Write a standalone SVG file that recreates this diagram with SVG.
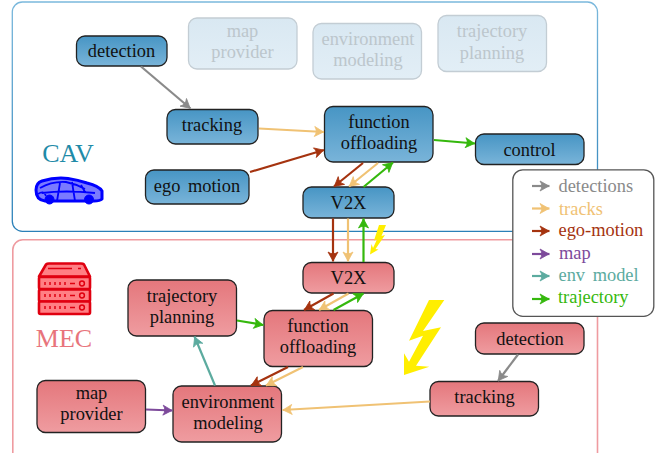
<svg xmlns="http://www.w3.org/2000/svg" width="656" height="453" viewBox="0 0 656 453">
<style>
text{font-family:"Liberation Serif",serif;font-size:18.4px;text-anchor:middle;fill:#111}
.n{stroke:#222;stroke-width:1.3}
.b{fill:url(#gb)}
.r{fill:url(#gr)}
.f{fill:url(#gf);stroke:#c3cdd4;stroke-width:1.3}
.ft{fill:#bcc6cc}
.l{text-anchor:start}
.c{fill:none;stroke-width:2.2}
.w{word-spacing:3px}
.gy{stroke:#8a8a8a}.tr{stroke:#f0c274}.eg{stroke:#a5330f}.mp{stroke:#7d4a9b}.em{stroke:#5cab9f}.tj{stroke:#35b80d}
</style>
<defs>
<linearGradient id="gb" x1="0" y1="0" x2="0" y2="1"><stop offset="0" stop-color="#4795c4"/><stop offset="1" stop-color="#79b4d9"/></linearGradient>
<linearGradient id="gr" x1="0" y1="0" x2="0" y2="1"><stop offset="0" stop-color="#e4777c"/><stop offset="1" stop-color="#ef9ca0"/></linearGradient>
<linearGradient id="gf" x1="0" y1="0" x2="0" y2="1"><stop offset="0" stop-color="#d9e8f2"/><stop offset="1" stop-color="#e2eef6"/></linearGradient>
<linearGradient id="gs" x1="0" y1="0" x2="0" y2="1"><stop offset="0" stop-color="#7ab8dc"/><stop offset="1" stop-color="#2a80b8"/></linearGradient>
<marker id="a-gy" markerUnits="userSpaceOnUse" markerWidth="14" markerHeight="14" refX="11.500" refY="7" orient="auto"><path d="M11,7 L2,2 Q5.500,7 2,12 Z" fill="#8a8a8a" stroke="#8a8a8a" stroke-width="0.800"/></marker>
<marker id="a-tr" markerUnits="userSpaceOnUse" markerWidth="14" markerHeight="14" refX="11.500" refY="7" orient="auto"><path d="M11,7 L2,2 Q5.500,7 2,12 Z" fill="#f0c274" stroke="#f0c274" stroke-width="0.800"/></marker>
<marker id="a-eg" markerUnits="userSpaceOnUse" markerWidth="14" markerHeight="14" refX="11.500" refY="7" orient="auto"><path d="M11,7 L2,2 Q5.500,7 2,12 Z" fill="#a5330f" stroke="#a5330f" stroke-width="0.800"/></marker>
<marker id="a-mp" markerUnits="userSpaceOnUse" markerWidth="14" markerHeight="14" refX="11.500" refY="7" orient="auto"><path d="M11,7 L2,2 Q5.500,7 2,12 Z" fill="#7d4a9b" stroke="#7d4a9b" stroke-width="0.800"/></marker>
<marker id="a-em" markerUnits="userSpaceOnUse" markerWidth="14" markerHeight="14" refX="11.500" refY="7" orient="auto"><path d="M11,7 L2,2 Q5.500,7 2,12 Z" fill="#5cab9f" stroke="#5cab9f" stroke-width="0.800"/></marker>
<marker id="a-tj" markerUnits="userSpaceOnUse" markerWidth="14" markerHeight="14" refX="11.500" refY="7" orient="auto"><path d="M11,7 L2,2 Q5.500,7 2,12 Z" fill="#35b80d" stroke="#35b80d" stroke-width="0.800"/></marker>
</defs>
<rect width="656" height="453" fill="#fff"/>
<g id="frames">
<rect x="12.300" y="2" width="585.200" height="229.300" rx="10" fill="none" stroke="url(#gs)" stroke-width="1.300"/>
<rect x="12.800" y="239.800" width="584.700" height="225" rx="10" fill="none" stroke="#ef9ba0" stroke-width="1.600"/>
</g>
<g id="labels">
<text x="68" y="161.500" style="font-size:26px;fill:#1f8ba8">CAV</text>
<text x="64" y="346.500" style="font-size:26px;fill:#e8747c">MEC</text>
</g>
<g id="car" stroke="#0000ff" fill="#7a7aff" stroke-width="3" stroke-linejoin="round">
<path d="M36,190 Q36,183 42,181 Q55,177 68,178.500 Q78,180 87,183 Q99,186 102,191 L102,199 Q100,201 94,201 L45,201 Q36,200 36,190 Z"/>
<path d="M40,188 Q52,181 66,182 Q76,184 85,189 M42,193 Q65,190 95,193 M60,183 L57,201 M72,182 L75,201 M81,185 L85,192 M38,194 Q44,190 46,196" fill="none" stroke-width="1.800"/>
<circle cx="49.500" cy="199.500" r="4.500" fill="#0000ff" stroke-width="1"/>
<circle cx="89" cy="199.500" r="4.500" fill="#0000ff" stroke-width="1"/>
</g>
<g id="server" stroke="#e00010" fill="#ff7f84" stroke-width="2.600" stroke-linejoin="round">
<path d="M39,276.500 L46,264.500 Q47,263.500 49,263.500 L81,263.500 Q83,263.500 84,264.500 L90,276.500 Z"/>
<rect x="39" y="277" width="51" height="12" rx="1.500"/>
<rect x="39" y="289.500" width="51" height="12" rx="1.500"/>
<rect x="39" y="301.500" width="51" height="12.500" rx="1.500"/>
<path d="M48,268.500 H72 M78,268.500 H81 M45,285 v-3 M50,285 v-3 M55,285 v-3 M60,285 v-3 M65,285 v-3 M70,283.500 h5 M45,297 v-3 M50,297 v-3 M55,297 v-3 M60,297 v-3 M65,297 v-3 M70,295.500 h5 M45,309 v-3 M50,309 v-3 M55,309 v-3 M60,309 v-3 M65,309 v-3 M70,307.500 h5" fill="none" stroke-width="1.500"/>
<circle cx="82" cy="283.500" r="2.400" stroke-width="1.500"/><circle cx="82" cy="295.500" r="2.400" stroke-width="1.500"/><circle cx="82" cy="307.500" r="2.400" stroke-width="1.500"/>
</g>
<g id="bolts" fill="#ffee00">
<polygon points="429,300 444.300,300 423,331 441,327.300 416,365.700 429.300,366.700 404,375 404,353.300 409,361.700 423,335.700 409,340.700"/>
<polygon points="379,225 386,225 381.500,236 385,235 375.500,249 378.500,249.500 370,254.500 371.500,244 373,248 377,239.500 374,240.500"/>
</g>
<g id="cav-detection"><rect class="n b" x="76.500" y="36" width="90.500" height="30" rx="8.500"/><text x="121.500" y="57">detection</text></g>
<g id="cav-map"><rect class="f" x="188.500" y="18" width="108.500" height="51" rx="8.500"/><text class="ft" x="242.500" y="36.500">map</text><text class="ft" x="242.500" y="57.500">provider</text></g>
<g id="cav-env"><rect class="f" x="313" y="23.500" width="108.500" height="55.500" rx="8.500"/><text class="ft" x="368" y="45">environment</text><text class="ft" x="368" y="66">modeling</text></g>
<g id="cav-traj"><rect class="f" x="438" y="15.500" width="108.500" height="56" rx="8.500"/><text class="ft" x="492" y="37">trajectory</text><text class="ft" x="492" y="58.500">planning</text></g>
<g id="cav-tracking"><rect class="n b" x="167" y="109.500" width="91" height="34.500" rx="8.500"/><text x="212" y="131">tracking</text></g>
<g id="cav-ego"><rect class="n b" x="145.500" y="170" width="103.500" height="34" rx="8.500"/><text class="w" x="197" y="191.500">ego motion</text></g>
<g id="cav-fo"><rect class="n b" x="324.500" y="106.500" width="108.500" height="55.500" rx="8.500"/><text x="379" y="128">function</text><text x="379" y="149">offloading</text></g>
<g id="cav-control"><rect class="n b" x="475.500" y="134" width="108.500" height="30.500" rx="8.500"/><text x="529.500" y="156">control</text></g>
<g id="cav-v2x"><rect class="n b" x="303" y="187" width="91" height="31" rx="8.500"/><text x="348.500" y="208.500">V2X</text></g>
<g id="mec-v2x"><rect class="n r" x="303" y="262.500" width="91" height="30.500" rx="8.500"/><text x="348.500" y="284">V2X</text></g>
<g id="mec-fo"><rect class="n r" x="264" y="310.500" width="108.500" height="56" rx="8.500"/><text x="318" y="332">function</text><text x="318" y="353">offloading</text></g>
<g id="mec-traj"><rect class="n r" x="128" y="280" width="108.500" height="56" rx="8.500"/><text x="182" y="302">trajectory</text><text x="182" y="323">planning</text></g>
<g id="mec-map"><rect class="n r" x="37" y="380.500" width="108.500" height="52" rx="8.500"/><text x="91.500" y="399">map</text><text x="91.500" y="420">provider</text></g>
<g id="mec-env"><rect class="n r" x="173" y="386" width="108.500" height="56" rx="8.500"/><text x="228" y="408">environment</text><text x="228" y="429">modeling</text></g>
<g id="mec-detection"><rect class="n r" x="475.500" y="323" width="108.500" height="31" rx="8.500"/><text x="530" y="345">detection</text></g>
<g id="mec-tracking"><rect class="n r" x="430" y="381.500" width="108.500" height="34.500" rx="8.500"/><text x="484.500" y="403">tracking</text></g>
<g id="connectors">
<line class="c gy" x1="141" y1="66.500" x2="190.500" y2="108.500" marker-end="url(#a-gy)"/>
<line class="c tr" x1="259" y1="128.500" x2="324" y2="132" marker-end="url(#a-tr)"/>
<line class="c eg" x1="250" y1="172" x2="324" y2="150" marker-end="url(#a-eg)"/>
<line class="c tj" x1="434" y1="140" x2="475" y2="143.500" marker-end="url(#a-tj)"/>
<line class="c eg" x1="363" y1="163" x2="334" y2="186.500" marker-end="url(#a-eg)"/>
<line class="c tr" x1="378" y1="163" x2="349" y2="186.500" marker-end="url(#a-tr)"/>
<line class="c tj" x1="363.500" y1="187" x2="393" y2="162.500" marker-end="url(#a-tj)"/>
<line class="c eg" x1="333" y1="218.500" x2="333" y2="261.500" marker-end="url(#a-eg)"/>
<line class="c tr" x1="348" y1="218.500" x2="348" y2="261.500" marker-end="url(#a-tr)"/>
<line class="c tj" x1="363.500" y1="262" x2="363.500" y2="218.500" marker-end="url(#a-tj)"/>
<line class="c eg" x1="333.500" y1="293.500" x2="304" y2="310" marker-end="url(#a-eg)"/>
<line class="c tr" x1="348.500" y1="293.500" x2="319" y2="310" marker-end="url(#a-tr)"/>
<line class="c tj" x1="333.500" y1="310" x2="363.500" y2="293.500" marker-end="url(#a-tj)"/>
<line class="c tj" x1="237" y1="320.500" x2="263.500" y2="325" marker-end="url(#a-tj)"/>
<line class="c eg" x1="288" y1="367" x2="251" y2="385.500" marker-end="url(#a-eg)"/>
<line class="c tr" x1="303" y1="367" x2="266" y2="385.500" marker-end="url(#a-tr)"/>
<line class="c em" x1="215" y1="385.500" x2="194.500" y2="336.500" marker-end="url(#a-em)"/>
<line class="c mp" x1="146" y1="409.500" x2="172.500" y2="410.500" marker-end="url(#a-mp)"/>
<line class="c tr" x1="430" y1="401.500" x2="282.500" y2="410" marker-end="url(#a-tr)"/>
<line class="c gy" x1="518" y1="354.500" x2="498" y2="381" marker-end="url(#a-gy)"/>
</g>
<g id="legend">
<rect x="512.800" y="169.800" width="141" height="146.500" rx="10" fill="#fff" stroke="#555" stroke-width="1.300"/>
<line class="c gy" x1="532" y1="186" x2="549.500" y2="186" marker-end="url(#a-gy)"/>
<text class="l" x="558.500" y="192" style="fill:#8a8a8a">detections</text>
<line class="c tr" x1="532" y1="208.500" x2="549.500" y2="208.500" marker-end="url(#a-tr)"/>
<text class="l" x="559" y="215" style="fill:#f0c274">tracks</text>
<line class="c eg" x1="532" y1="231" x2="549.500" y2="231" marker-end="url(#a-eg)"/>
<text class="l" x="558.500" y="236" style="fill:#a5330f">ego-motion</text>
<line class="c mp" x1="532" y1="254" x2="549.500" y2="254" marker-end="url(#a-mp)"/>
<text class="l" x="559" y="259" style="fill:#7d4a9b">map</text>
<line class="c em" x1="532" y1="276" x2="549.500" y2="276" marker-end="url(#a-em)"/>
<text class="l w" x="558.500" y="281" style="fill:#5cab9f">env model</text>
<line class="c tj" x1="532" y1="299" x2="549.500" y2="299" marker-end="url(#a-tj)"/>
<text class="l" x="558" y="303" style="fill:#35b80d">trajectory</text>
</g>
</svg>
